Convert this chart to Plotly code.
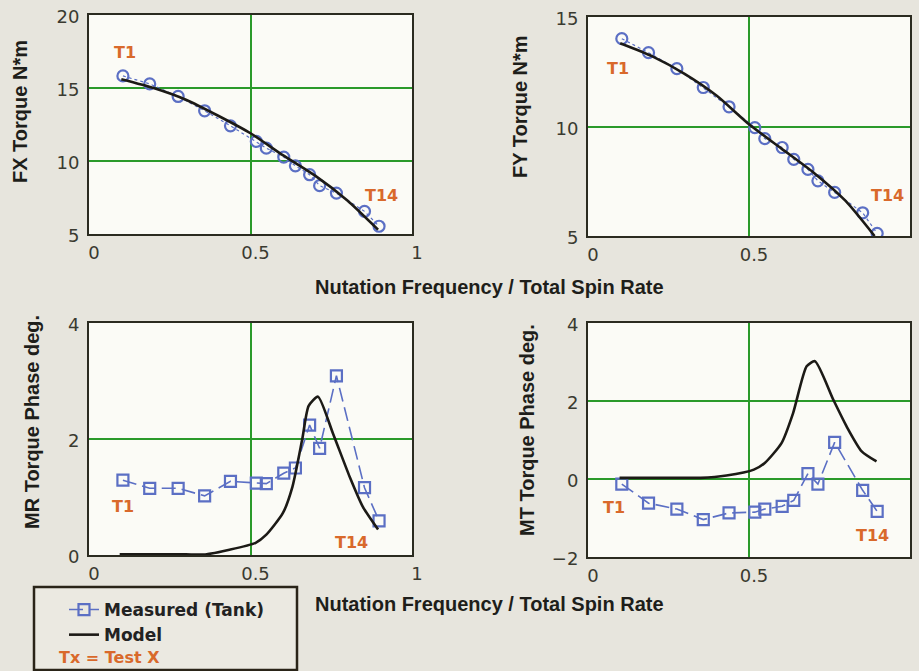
import plotly.graph_objects as go

# ---------------- data ----------------
ratio = [0.105, 0.188, 0.276, 0.358, 0.438, 0.518, 0.549, 0.603, 0.639, 0.683, 0.714, 0.766, 0.853, 0.898]

fx_meas = [15.83, 15.28, 14.42, 13.44, 12.41, 11.34, 10.88, 10.27, 9.67, 9.06, 8.31, 7.80, 6.55, 5.53]
fy_meas = [14.01, 13.37, 12.64, 11.78, 10.90, 9.95, 9.45, 9.04, 8.50, 8.04, 7.52, 6.99, 6.06, 5.12]
mr_meas = [1.29, 1.15, 1.15, 1.02, 1.27, 1.24, 1.23, 1.41, 1.50, 2.24, 1.84, 3.09, 1.16, 0.59]
mt_meas = [-0.13, -0.62, -0.77, -1.04, -0.87, -0.85, -0.77, -0.70, -0.55, 0.14, -0.13, 0.94, -0.29, -0.83]

model_x_f = [0.10, 0.20, 0.30, 0.40, 0.50, 0.60, 0.70, 0.80, 0.895]
fx_model = [15.6, 15.0, 14.2, 13.1, 11.9, 10.4, 9.0, 7.3, 5.3]
model_x_fy = [0.10, 0.20, 0.30, 0.40, 0.50, 0.60, 0.70, 0.80, 0.89]
fy_model = [13.8, 13.2, 12.4, 11.4, 10.1, 9.0, 7.9, 6.6, 5.0]

mr_model_x = [0.095, 0.20, 0.30, 0.36, 0.435, 0.516, 0.549, 0.60, 0.63, 0.66, 0.68, 0.709, 0.755, 0.807, 0.848, 0.895]
mr_model = [0.01, 0.01, 0.01, 0.01, 0.09, 0.21, 0.35, 0.72, 1.18, 1.99, 2.57, 2.73, 2.10, 1.35, 0.83, 0.44]
mt_model_x = [0.098, 0.20, 0.30, 0.35, 0.43, 0.515, 0.549, 0.601, 0.637, 0.679, 0.705, 0.762, 0.803, 0.85, 0.896]
mt_model = [0.03, 0.03, 0.03, 0.03, 0.09, 0.24, 0.41, 0.92, 1.69, 2.89, 3.02, 2.03, 1.35, 0.71, 0.45]

x_ticks = [0, 0.5, 1]
x_tick_text = ["0", "0.5", "1"]

# ---------------- style ----------------
BLUE = "#5b6fc4"
BLACK = "#1c1a16"
ORANGE = "#d9692b"
GREEN = "#2a9a2a"
AXIS = "#2b2b20"
TICKFONT = dict(family="DejaVu Sans", size=18, color="#3a3a30")
TITLEFONT = dict(family="Liberation Sans", size=20, color="#1e1e1a")
W, H = 919, 671

def px_x(p):
    return p / W

def px_y(p):
    return 1 - p / H

fig = go.Figure()

panels = [
    ("", (89, 412), (15, 234), [5, 20], 5, fx_meas, model_x_f, fx_model, "circle-open", "dot", False),
    ("2", (588, 910), (17, 236), [5, 15], 5, fy_meas, model_x_fy, fy_model, "circle-open", "dot", False),
    ("3", (89, 412), (323, 555), [0, 4], 2, mr_meas, mr_model_x, mr_model, "square-open", "14px,6px", True),
    ("4", (588, 910), (323, 557), [-2, 4], 2, mt_meas, mt_model_x, mt_model, "square-open", "14px,6px", False),
]

for k, xd, yd, yr, dt, meas, mx, my, sym, dash, inleg in panels:
    xa = "x" + k
    ya = "y" + k
    lw = 1.2 if dash == "dot" else 1.6
    fig.add_trace(go.Scatter(
        x=ratio, y=meas, xaxis=xa, yaxis=ya, mode="lines+markers",
        line=dict(color=BLUE, width=lw, dash=dash),
        marker=dict(symbol=sym, size=11, color=BLUE, line=dict(width=2.2, color=BLUE)),
        name="Measured (Tank)", showlegend=inleg, legendrank=1))
    fig.add_trace(go.Scatter(
        x=mx, y=my, xaxis=xa, yaxis=ya, mode="lines",
        line=dict(color=BLACK, width=2.6, shape="spline", smoothing=0.6),
        name="Model", showlegend=inleg, legendrank=2))
    fig.layout["xaxis" + k] = dict(
        domain=[px_x(xd[0]), px_x(xd[1])], range=[0, 1], tickvals=x_ticks, ticktext=x_tick_text,
        showgrid=True, gridcolor=GREEN, gridwidth=2, zeroline=False, automargin=False,
        showline=True, linecolor=AXIS, linewidth=2, mirror=True, ticks="",
        ticklabelshift=5, ticklabelstandoff=1,
        tickfont=TICKFONT, anchor=ya, fixedrange=True)
    fig.layout["yaxis" + k] = dict(
        domain=[px_y(yd[1]), px_y(yd[0])], range=yr, dtick=dt, tick0=yr[0],
        showgrid=True, gridcolor=GREEN, gridwidth=2, zeroline=False, automargin=False,
        showline=True, linecolor=AXIS, linewidth=2, mirror=True, ticks="",
        ticklabelstandoff=4, ticklabelshift=2,
        tickfont=TICKFONT, anchor=xa, fixedrange=True)

# ---------------- annotations ----------------
ann = []
tlabels = [
    ("x", "y", 0.111, 17.4, 0.907, 7.67),
    ("x2", "y2", 0.093, 12.67, 0.929, 6.87),
    ("x3", "y3", 0.105, 0.83, 0.814, 0.21),
    ("x4", "y4", 0.081, -0.74, 0.882, -1.44),
]
for xr, yr_, x1, y1, x14, y14 in tlabels:
    for tx, ty, txt in [(x1, y1, "T1"), (x14, y14, "T14")]:
        ann.append(dict(x=tx, y=ty, xref=xr, yref=yr_, text=txt, showarrow=False,
                        font=dict(family="DejaVu Sans", size=16, color=ORANGE, weight="bold")))

ytitles = [
    (20, 112, "FX Torque N*m"),
    (520, 107, "FY Torque N*m"),
    (32, 422, "MR Torque Phase deg."),
    (527, 430, "MT Torque Phase deg."),
]
for x, y, t in ytitles:
    ann.append(dict(x=px_x(x), y=px_y(y), xref="paper", yref="paper", text="<b>" + t + "</b>",
                    textangle=-90, showarrow=False, font=TITLEFONT,
                    xanchor="center", yanchor="middle"))

for y in (287, 604):
    ann.append(dict(x=px_x(489), y=px_y(y), xref="paper", yref="paper",
                    text="<b>Nutation Frequency / Total Spin Rate</b>", showarrow=False,
                    font=TITLEFONT, xanchor="center", yanchor="middle"))

ann.append(dict(x=px_x(57), y=px_y(657), xref="paper", yref="paper", text="Tx = Test X",
                showarrow=False, xanchor="left", yanchor="middle",
                font=dict(family="DejaVu Sans", size=16, color=ORANGE, weight="bold")))

fig.update_layout(
    width=W, height=H,
    margin=dict(l=0, r=0, t=0, b=0, autoexpand=False),
    paper_bgcolor="#e7e5dd",
    plot_bgcolor="#fbfbf6",
    annotations=ann,
    showlegend=True,
    legend=dict(x=px_x(64), y=px_y(592), xanchor="left", yanchor="top",
                bgcolor="rgba(0,0,0,0)", borderwidth=0, tracegroupgap=0,
                font=dict(family="DejaVu Sans", size=17, color="#222222", weight="bold"),
                itemwidth=30),
    shapes=[dict(type="rect", xref="paper", yref="paper",
                 x0=px_x(34), x1=px_x(297), y0=px_y(670), y1=px_y(587),
                 line=dict(color="#2a2418", width=2.5), fillcolor="#ebe9e1", layer="below")],
)

fig.write_html("out.html")
